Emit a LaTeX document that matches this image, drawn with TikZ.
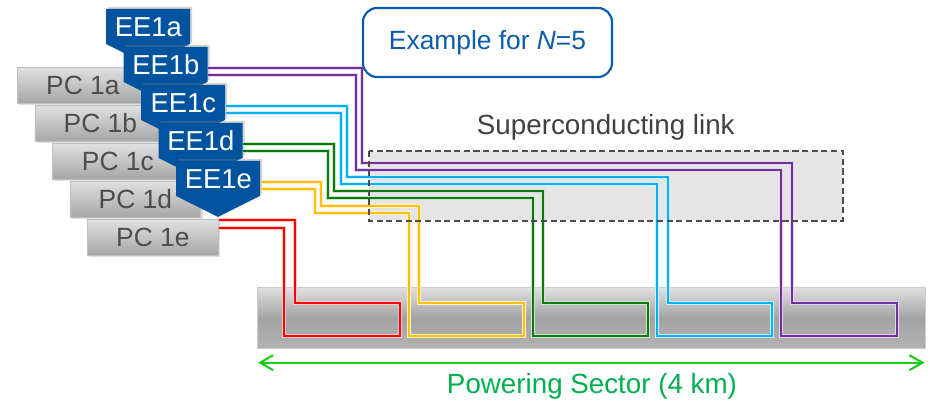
\documentclass[tikz,border=0pt]{standalone}
\usepackage{fontspec}
\setmainfont{Liberation Sans}
\usepackage{tikz}
\usetikzlibrary{arrows.meta, positioning, calc, shadows}
\definecolor{eeblue}{HTML}{00549F}
\definecolor{pctext}{HTML}{4D4D4D}
\definecolor{exblue}{HTML}{0B5CAD}
\definecolor{wpurple}{HTML}{7030A0}
\definecolor{wcyan}{HTML}{00B0F0}
\definecolor{wgreen}{HTML}{0E7A0E}
\definecolor{wyellow}{HTML}{FFC000}
\definecolor{wred}{HTML}{FF0000}
\definecolor{sectext}{HTML}{00B050}
\definecolor{secarrow}{HTML}{1CCB1C}

\begin{document}
\begin{tikzpicture}[
  x=0.02cm, y=-0.02cm,
  pcbox/.style={rectangle, draw=black!25, top color=black!12,
    bottom color=black!35, minimum width=2.62cm, minimum height=0.72cm,
    inner sep=0pt, text=pctext, font=\fontsize{15}{18}\selectfont,
    drop shadow={shadow xshift=1pt, shadow yshift=-1pt, opacity=0.25}},
  eeshape/.style={fill=eeblue,
    drop shadow={shadow xshift=1.2pt, shadow yshift=1.2pt, opacity=0.35}},
  eetext/.style={rectangle, minimum width=1.68cm, minimum height=0.7cm,
    inner sep=0pt, text=white, font=\fontsize{15.6}{18}\selectfont},
  wire/.style={draw=#1, line width=1pt,
    preaction={draw=#1!20, line width=2.2pt}},
  linkbox/.style={rectangle, fill=black!10, minimum width=9.46cm,
    minimum height=1.38cm, inner sep=0pt},
  linkborder/.style={draw=black!70, line width=1.1pt,
    dash pattern=on 3.5pt off 2pt},
  linklabel/.style={text=black!75, font=\fontsize{15.8}{19}\selectfont},
  exbox/.style={rectangle, rounded corners=0.28cm, draw=exblue,
    line width=1.2pt, fill=white, minimum width=4.98cm,
    minimum height=1.38cm, text=exblue, font=\fontsize{15}{18}\selectfont},
  sectorbar/.style={rectangle, draw=black!20, top color=black!12,
    bottom color=black!30, middle color=black!36,
    minimum width=13.36cm, minimum height=1.22cm, inner sep=0pt},
  secarr/.style={{Straight Barb[length=7.4pt, width=8.5pt]}-{Straight Barb[length=7.4pt, width=8.5pt]},
    draw=secarrow, line width=1.2pt},
  seclabel/.style={text=sectext, font=\fontsize{15.8}{19}\selectfont}
]
  \useasboundingbox (0,0) rectangle (936,401);

  % powering sector and superconducting link
  \node[sectorbar, anchor=north west] (sector) at (257,287) {};
  \node[linkbox, anchor=north west] (link) at (369,151) {};
  \node[linklabel, anchor=base] (linktxt) at ($(link.north)+(0,-16)$)
    {Superconducting link};

  % power converters
  \foreach \s [count=\i from 0] in {a,b,c,d,e}
    \node[pcbox, anchor=north west] (pc1\s) at ({17+17.5*\i},{67+38*\i})
      {PC 1\s};

  % energy extraction units
  \foreach \s [count=\i from 0] in {a,b,c,d,e}
    \fill[eeshape] ({106+17.5*\i},{9+38*\i}) -- ++(84,0) -- ++(0,35)
      -- ++(-42,21) -- ++(-42,-21) -- cycle
      node[eetext, anchor=north west] (ee1\s) at ({106+17.5*\i},{9+38*\i})
      {EE1\s};

  % circuits
  \draw[wire=wred] ($(pc1e.north east)+(0,1)$) -| (295,303) -| (400,336)
    -| (284,228) -- ($(pc1e.north east)+(0,9)$);
  \draw[wire=wyellow] ($(ee1e.north east)+(0,21)$) -| (321,206) -| (419,303)
    -| (524,336) -| (409,213) -| (315,189) -- ($(ee1e.north east)+(0,28)$);
  \draw[wire=wgreen] ($(ee1d.north east)+(0,21)$) -| (334,191) -| (543,303)
    -| (648,336) -| (533,198) -| (328,151) -- ($(ee1d.north east)+(0,28)$);
  \draw[wire=wcyan] ($(ee1c.north east)+(0,21)$) -| (347,177) -| (668,303)
    -| (772,336) -| (657,184) -| (341,113) -- ($(ee1c.north east)+(0,28)$);
  \draw[wire=wpurple] ($(ee1b.north east)+(0,21)$) -| (362,163) -| (792,303)
    -| (897,336) -| (781,170) -| (356,75) -- ($(ee1b.north east)+(0,28)$);

  \draw[linkborder] (link.north west) rectangle (link.south east);

  % legend box
  \node[exbox] (example) at (487.5,42.5) {Example for {\itshape N}=5};

  % sector length
  \coordinate (secL) at ($(sector.south west)+(1,14)$);
  \coordinate (secR) at ($(sector.south east)+(-1,14)$);
  \draw[secarr] (secL) -- (secR);
  \node[seclabel, anchor=base] (sectxt) at (592,394) {Powering Sector (4 km)};
\end{tikzpicture}
\end{document}
